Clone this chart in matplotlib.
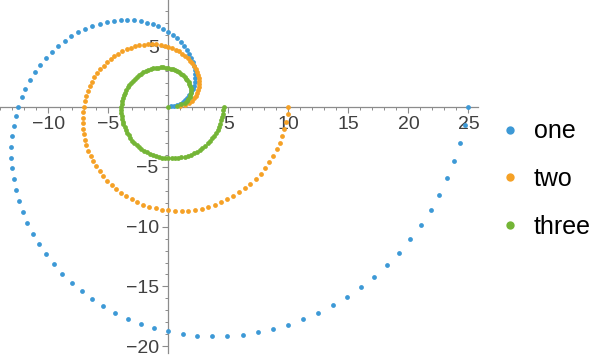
import numpy as np
import matplotlib
matplotlib.use("Agg")
import matplotlib.pyplot as plt
from matplotlib.lines import Line2D
from matplotlib.ticker import MultipleLocator, FuncFormatter

# angle of each point (degrees), shared by the three series
angles_deg = [3.6, 7.2, 10.8, 14.4, 18.0, 21.6, 25.2, 28.8, 32.4, 36.0,
              39.6, 43.2, 46.8, 50.4, 54.0, 57.6, 61.2, 64.8, 68.4, 72.0,
              75.6, 79.2, 82.8, 86.4, 90.0, 93.6, 97.2, 100.8, 104.4, 108.0,
              111.6, 115.2, 118.8, 122.4, 126.0, 129.6, 133.2, 136.8, 140.4, 144.0,
              147.6, 151.2, 154.8, 158.4, 162.0, 165.6, 169.2, 172.8, 176.4, 180.0,
              183.6, 187.2, 190.8, 194.4, 198.0, 201.6, 205.2, 208.8, 212.4, 216.0,
              219.6, 223.2, 226.8, 230.4, 234.0, 237.6, 241.2, 244.8, 248.4, 252.0,
              255.6, 259.2, 262.8, 266.4, 270.0, 273.6, 277.2, 280.8, 284.4, 288.0,
              291.6, 295.2, 298.8, 302.4, 306.0, 309.6, 313.2, 316.8, 320.4, 324.0,
              327.6, 331.2, 334.8, 338.4, 342.0, 345.6, 349.2, 352.8, 356.4, 360.0]

# distance from origin of each point
one_r = [0.25, 0.5, 0.75, 1.0, 1.25, 1.5, 1.75, 2.0, 2.25, 2.5,
         2.75, 3.0, 3.25, 3.5, 3.75, 4.0, 4.25, 4.5, 4.75, 5.0,
         5.25, 5.5, 5.75, 6.0, 6.25, 6.5, 6.75, 7.0, 7.25, 7.5,
         7.75, 8.0, 8.25, 8.5, 8.75, 9.0, 9.25, 9.5, 9.75, 10.0,
         10.25, 10.5, 10.75, 11.0, 11.25, 11.5, 11.75, 12.0, 12.25, 12.5,
         12.75, 13.0, 13.25, 13.5, 13.75, 14.0, 14.25, 14.5, 14.75, 15.0,
         15.25, 15.5, 15.75, 16.0, 16.25, 16.5, 16.75, 17.0, 17.25, 17.5,
         17.75, 18.0, 18.25, 18.5, 18.75, 19.0, 19.25, 19.5, 19.75, 20.0,
         20.25, 20.5, 20.75, 21.0, 21.25, 21.5, 21.75, 22.0, 22.25, 22.5,
         22.75, 23.0, 23.25, 23.5, 23.75, 24.0, 24.25, 24.5, 24.75, 25.0]

two_r = [1.00, 1.41, 1.73, 2.00, 2.24, 2.45, 2.65, 2.83, 3.00, 3.16,
         3.32, 3.46, 3.61, 3.74, 3.87, 4.00, 4.12, 4.24, 4.36, 4.47,
         4.58, 4.69, 4.80, 4.90, 5.00, 5.10, 5.20, 5.29, 5.39, 5.48,
         5.57, 5.66, 5.74, 5.83, 5.92, 6.00, 6.08, 6.16, 6.24, 6.32,
         6.40, 6.48, 6.56, 6.63, 6.71, 6.78, 6.86, 6.93, 7.00, 7.07,
         7.14, 7.21, 7.28, 7.35, 7.42, 7.48, 7.55, 7.62, 7.68, 7.75,
         7.81, 7.87, 7.94, 8.00, 8.06, 8.12, 8.19, 8.25, 8.31, 8.37,
         8.43, 8.49, 8.54, 8.60, 8.66, 8.72, 8.77, 8.83, 8.89, 8.94,
         9.00, 9.06, 9.11, 9.17, 9.22, 9.27, 9.33, 9.38, 9.43, 9.49,
         9.54, 9.59, 9.64, 9.70, 9.75, 9.80, 9.85, 9.90, 9.95, 10.00]

three_r = [0.00, 0.69, 1.10, 1.39, 1.61, 1.79, 1.95, 2.08, 2.20, 2.30,
           2.40, 2.48, 2.56, 2.64, 2.71, 2.77, 2.83, 2.89, 2.94, 3.00,
           3.04, 3.09, 3.14, 3.18, 3.22, 3.26, 3.30, 3.33, 3.37, 3.40,
           3.43, 3.47, 3.50, 3.53, 3.56, 3.58, 3.61, 3.64, 3.66, 3.69,
           3.71, 3.74, 3.76, 3.78, 3.81, 3.83, 3.85, 3.87, 3.89, 3.91,
           3.93, 3.95, 3.97, 3.99, 4.01, 4.03, 4.04, 4.06, 4.08, 4.09,
           4.11, 4.13, 4.14, 4.16, 4.17, 4.19, 4.20, 4.22, 4.23, 4.25,
           4.26, 4.28, 4.29, 4.30, 4.32, 4.33, 4.34, 4.36, 4.37, 4.38,
           4.39, 4.41, 4.42, 4.43, 4.44, 4.45, 4.47, 4.48, 4.49, 4.50,
           4.51, 4.52, 4.53, 4.54, 4.55, 4.56, 4.57, 4.58, 4.60, 4.61]

labels = ["one", "two", "three"]
colors = ["#3d99d6", "#f5a126", "#74b536"]

plt.rcParams['font.family'] = ['Liberation Sans', 'DejaVu Sans']

fig = plt.figure(figsize=(6.04, 3.6), dpi=100)
ax = fig.add_axes([0.0, 7 / 360, 478 / 604, 353 / 360])

theta = np.deg2rad(angles_deg)
for r, c in zip([one_r, two_r, three_r], colors):
    r = np.array(r)
    ax.scatter(r * np.cos(theta), r * np.sin(theta), s=12, color=c,
               linewidths=0, zorder=3, clip_on=False)

ax.set_xlim(-14.03, 25.8)
ax.set_ylim(-20.55, 8.9)

# axes through origin, Mathematica style
for side in ['top', 'right']:
    ax.spines[side].set_visible(False)
ax.spines['left'].set_position(('data', 0))
ax.spines['bottom'].set_position(('data', 0))
for side in ['left', 'bottom']:
    ax.spines[side].set_color('#8c8c8c')
    ax.spines[side].set_linewidth(0.9)

ax.xaxis.set_major_locator(MultipleLocator(5))
ax.xaxis.set_minor_locator(MultipleLocator(1))
ax.yaxis.set_major_locator(MultipleLocator(5))
ax.yaxis.set_minor_locator(MultipleLocator(1))
fmt = FuncFormatter(lambda v, p: "" if abs(v) < 1e-9 else f"{v:.0f}".replace("-", "\u2212"))
ax.xaxis.set_major_formatter(fmt)
ax.yaxis.set_major_formatter(fmt)

ax.tick_params(axis='x', which='major', direction='in', length=4, width=0.8,
               color='#8c8c8c', labelsize=14, labelcolor='#404040', pad=7)
ax.tick_params(axis='y', which='major', direction='in', length=4, width=0.8,
               color='#8c8c8c', labelsize=14, labelcolor='#404040', pad=7)
ax.tick_params(which='minor', direction='in', length=2.5, width=0.7, color='#8c8c8c')
ax.tick_params(axis='x', which='both', top=False)
ax.tick_params(axis='y', which='both', right=False)

# x ticks point up, y ticks point right (into positive side)
for t in ax.xaxis.get_major_ticks() + ax.xaxis.get_minor_ticks():
    t.tick1line.set_marker(3)
for t in ax.yaxis.get_major_ticks() + ax.yaxis.get_minor_ticks():
    t.tick1line.set_marker(0)

handles = [Line2D([], [], linestyle='none', marker='o', markersize=6,
                  markerfacecolor=c, markeredgewidth=0) for c in colors]
fig.legend(handles, labels, loc='center left', bbox_to_anchor=(500 / 604, 1 - 179 / 360),
           frameon=False, fontsize=18, handlelength=0.8, handletextpad=0.55,
           labelspacing=0.95, borderpad=0, borderaxespad=0)

fig.savefig("out.png", dpi=100)
